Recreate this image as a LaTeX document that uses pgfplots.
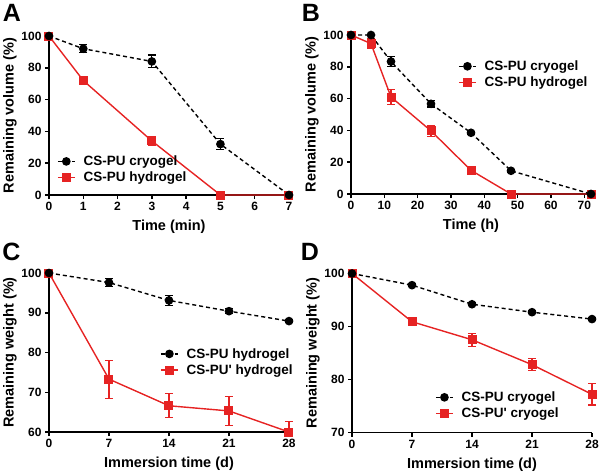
\documentclass[border=0pt]{standalone}
\usepackage{fontspec}
\setmainfont{Liberation Sans}[Ligatures=TeXOff]
\usepackage{pgfplots}
\pgfplotsset{compat=1.18}
\definecolor{gred}{RGB}{230,35,35}

\pgfplotsset{
  panel/.style={
    scale only axis, width=240pt, height=159pt,
    axis x line*=bottom, axis y line*=left,
    axis line style={line width=1.8pt, -},
    every tick/.style={black, line width=1.5pt},
    tick align=outside, major tick length=4pt,
    tick label style={font=\fontsize{12}{12}\selectfont\bfseries},
    /pgf/number format/assume math mode=true,
    label style={font=\fontsize{14.5}{16}\selectfont\bfseries},
    x label style={at={(axis description cs:0.5,-0.2)}, anchor=center},
    y label style={at={(axis description cs:-0.1625,0.5)}, anchor=center},
    legend style={draw=none, fill=none, font=\fontsize{13.5}{15}\selectfont\bfseries,
      anchor=west, inner sep=0pt, row sep=1pt, column sep=6pt},
    legend cell align=left,
    legend image code/.code={\draw[mark repeat=2, mark phase=2, #1]
      plot coordinates {(0pt,0pt) (8.5pt,0pt) (17pt,0pt)};},
    clip=false, reverse legend,
  },
  cryo/.style={black, line width=1.4pt, dash pattern=on 4pt off 3pt,
    mark=*, mark size=3.6pt, mark options={solid},
    error bars/.cd, y dir=both, y explicit,
    error bar style={solid, line width=1.2pt},
    error mark options={solid, line width=1.2pt, mark size=4pt, rotate=90}},
  hydro/.style={gred, line width=1.4pt, solid,
    mark=square*, mark size=3.8pt, mark options={solid},
    error bars/.cd, y dir=both, y explicit,
    error bar style={solid, line width=1.2pt},
    error mark options={solid, line width=1.2pt, mark size=4pt, rotate=90}},
}

\begin{document}
\begin{tikzpicture}
\useasboundingbox (0pt,0pt) rectangle (600pt,475pt);

% A
\begin{axis}[panel, at={(49pt,280pt)}, anchor=south west,
  xmin=0, xmax=7, ymin=0, ymax=100,
  xtick={0,1,...,7}, ytick={0,20,...,100},
  xlabel={Time (min)}, ylabel={Remaining volume (\%)},
  legend style={at={(axis description cs:0.033,0.16)}}]
\addplot[hydro] table[y error plus=ep, y error minus=em] {
x y ep em
0 100 0 0
1 72 1.5 1.5
3 34 3 3
5 0 0 0
7 0 0 0
};
\addplot[cryo] table[y error plus=ep, y error minus=em] {
x y ep em
0 100 0 0
1 92 2.5 2.5
3 84 4 4
5 32 3.5 3.5
7 0 0 0
};
\legend{CS-PU hydrogel, CS-PU cryogel}
\end{axis}

% B
\begin{axis}[panel, at={(351pt,281pt)}, anchor=south west,
  xmin=0, xmax=72, ymin=0, ymax=100,
  xtick={0,10,...,70}, ytick={0,20,...,100},
  xlabel={Time (h)}, ylabel={Remaining volume (\%)},
  legend style={at={(axis description cs:0.446,0.752)}}]
\addplot[hydro] table[y error plus=ep, y error minus=em] {
x y ep em
0 100 0 0
6 94.6 3 3
12 61 4.5 4.5
24 39.7 3.5 3.5
36 14.9 1 1
48 0 0 0
72 0 0 0
};
\addplot[cryo] table[y error plus=ep, y error minus=em] {
x y ep em
0 100 0 0
6 100 0 0
12 83.3 3 3
24 56.7 2 2
36 38.5 1 1
48 14.6 1 1
72 0 0 0
};
\legend{CS-PU hydrogel, CS-PU cryogel}
\end{axis}

% C
\begin{axis}[panel, at={(49pt,43pt)}, anchor=south west,
  xmin=0, xmax=28, ymin=60, ymax=100,
  xtick={0,7,...,28}, ytick={60,70,...,100},
  xlabel={Immersion time (d)}, ylabel={Remaining weight (\%)},
  legend style={at={(axis description cs:0.4625,0.44)}}]
\addplot[hydro] table[y error plus=ep, y error minus=em] {
x y ep em
0 100 0 0
7 73.3 4.7 4.8
14 66.6 3 3
21 65.3 3.6 3.6
28 60 2.7 0
};
\addplot[cryo] table[y error plus=ep, y error minus=em] {
x y ep em
0 100 0 0
7 97.6 1 1
14 93.1 1.3 1.3
21 90.4 0.6 0.6
28 87.9 0.4 0.4
};
\legend{CS-PU' hydrogel, CS-PU hydrogel}
\end{axis}

% D
\begin{axis}[panel, at={(352pt,42.5pt)}, anchor=south west,
  xmin=0, xmax=28, ymin=70, ymax=100,
  xtick={0,7,...,28}, ytick={70,80,...,100},
  xlabel={Immersion time (d)}, ylabel={Remaining weight (\%)},
  legend style={at={(axis description cs:0.346,0.17)}}]
\addplot[hydro] table[y error plus=ep, y error minus=em] {
x y ep em
0 100 0 0
7 90.9 0.6 0.6
14 87.5 1.2 1.2
21 82.8 1.1 1.1
28 77.2 2 2
};
\addplot[cryo] table[y error plus=ep, y error minus=em] {
x y ep em
0 100 0 0
7 97.8 0.3 0.3
14 94.2 0.3 0.3
21 92.7 0.3 0.3
28 91.4 0.3 0.3
};
\legend{CS-PU' cryogel, CS-PU cryogel}
\end{axis}

\begin{scope}[every node/.style={font=\fontsize{25}{25}\selectfont\bfseries}]
\node at (12pt,462pt) {A};
\node at (311pt,462pt) {B};
\node at (11.5pt,223.5pt) {C};
\node at (310pt,223pt) {D};
\end{scope}
\end{tikzpicture}
\end{document}
